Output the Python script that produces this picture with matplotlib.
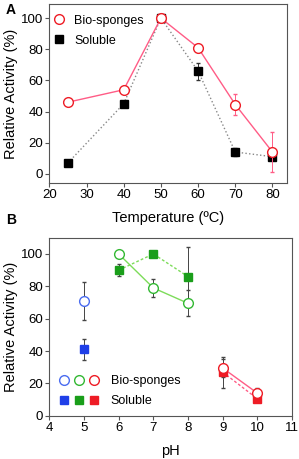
import numpy as np
import matplotlib.pyplot as plt
from matplotlib.legend_handler import HandlerTuple

plt.rcParams['font.family'] = ['Liberation Sans', 'DejaVu Sans']
plt.rcParams['font.size'] = 9.5

## panel A data: temperature
temp = [25, 40, 50, 60, 70, 80]
bio_T = [46, 54, 100, 81, 44.5, 14]
bio_T_err = [2, 1, 1, 1.5, 6.5, 13]
sol_T = [7, 45, 100, 66, 14, 11]
sol_T_err = [1, 1, 1, 5.5, 2.5, 1]

## panel B data: pH
ph_blue = [5]
bio_blue = [71]
bio_blue_err = [11.5]
sol_blue = [41]
sol_blue_err = [6.5]

ph_green = [6, 7, 8]
bio_green = [100, 79, 69.5]
bio_green_err = [0.5, 5.5, 8]
sol_green = [90, 100, 86]
sol_green_err = [3.5, 0.5, 18]

ph_red = [9, 10]
bio_red = [29.5, 14]
bio_red_err = [5.5, 3]
sol_red = [27, 10.5]
sol_red_err = [9.5, 2]

pink = '#ff5c86'
red_c = '#ee1c25'
green_l = '#7ddc5a'
green_f = '#1a9e1a'
blue_c = '#1f3fe8'
spine_c = '#555555'

fig = plt.figure(figsize=(2.99, 4.59), dpi=100)

def style(ax):
    for s in ax.spines.values():
        s.set_color(spine_c)
        s.set_linewidth(0.8)
    ax.tick_params(direction='out', length=3, width=0.8, color=spine_c, pad=1.5)

## panel A
w = fig.add_axes([0.165, 0.601, 0.796, 0.390])
w.plot(temp, sol_T, color='#888888', ls=':', lw=1, zorder=1)
w.errorbar(temp, sol_T, yerr=sol_T_err, fmt='none', ecolor='#333333', elinewidth=0.7, capsize=1.5, zorder=2)
w.plot(temp, sol_T, 's', color='black', ms=6, ls='none', zorder=3, label='Soluble')
w.plot(temp, bio_T, color=pink, lw=1, zorder=4)
w.errorbar(temp, bio_T, yerr=bio_T_err, fmt='none', ecolor=pink, elinewidth=0.7, capsize=1.5, zorder=4)
w.plot(temp, bio_T, 'o', mfc='white', mec=red_c, mew=1, ms=7, ls='none', zorder=5, label='Bio-sponges')
w.set_xlim(20, 84)
w.set_ylim(-6, 109)
w.set_xticks([20, 30, 40, 50, 60, 70, 80])
w.set_yticks([0, 20, 40, 60, 80, 100])
w.set_xlabel('Temperature (ºC)', fontsize=10.5, labelpad=7)
w.set_ylabel('Relative Activity (%)', fontsize=10.5, labelpad=2)
h, l = w.get_legend_handles_labels()
w.legend(h[::-1], l[::-1], loc='upper left', bbox_to_anchor=(0.012, 0.94), frameon=False,
         fontsize=9, handlelength=1.15, handletextpad=0.6, labelspacing=0.62,
         borderpad=0, borderaxespad=0)
style(w)
fig.text(0.02, 0.993, 'A', fontsize=10, fontweight='bold', va='top')
fig.text(0.02, 0.535, 'B', fontsize=10, fontweight='bold', va='top')

## panel B
w = fig.add_axes([0.165, 0.094, 0.812, 0.388])
w.plot(ph_green, sol_green, color=green_l, ls=(0, (2, 1.5)), lw=1, zorder=1)
w.plot(ph_red, sol_red, color=pink, ls=(0, (2, 1.5)), lw=1, zorder=1)
w.plot(ph_green, bio_green, color=green_l, lw=1, zorder=1)
w.plot(ph_red, bio_red, color=pink, lw=1, zorder=1)
for x, y, e in [(ph_blue, sol_blue, sol_blue_err), (ph_green, sol_green, sol_green_err),
                (ph_red, sol_red, sol_red_err), (ph_blue, bio_blue, bio_blue_err),
                (ph_green, bio_green, bio_green_err), (ph_red, bio_red, bio_red_err)]:
    w.errorbar(x, y, yerr=e, fmt='none', ecolor='#444444', elinewidth=0.7, capsize=1.5, zorder=2)
sb, = w.plot(ph_blue, sol_blue, 's', color=blue_c, ms=6, ls='none', zorder=3)
sg, = w.plot(ph_green, sol_green, 's', color=green_f, ms=6, ls='none', zorder=3)
sr, = w.plot(ph_red, sol_red, 's', color=red_c, ms=6, ls='none', zorder=3)
cb, = w.plot(ph_blue, bio_blue, 'o', mfc='white', mec='#4a6cf0', mew=1, ms=7, ls='none', zorder=4)
cg, = w.plot(ph_green, bio_green, 'o', mfc='white', mec='#33b833', mew=1, ms=7, ls='none', zorder=4)
cr, = w.plot(ph_red, bio_red, 'o', mfc='white', mec=red_c, mew=1, ms=7, ls='none', zorder=4)
w.set_xlim(4, 11)
w.set_ylim(0, 110)
w.set_xticks(range(4, 12))
w.set_yticks([0, 20, 40, 60, 80, 100])
w.set_xlabel('pH', fontsize=10.5, labelpad=7)
w.set_ylabel('Relative Activity (%)', fontsize=10.5, labelpad=2)
w.legend([(cb, cg, cr), (sb, sg, sr)], ['Bio-sponges', 'Soluble'],
         handler_map={tuple: HandlerTuple(ndivide=None, pad=0)},
         loc='lower left', bbox_to_anchor=(0.031, 0.05), frameon=False, fontsize=9,
         handlelength=3.6, handletextpad=0.7, labelspacing=0.62,
         borderpad=0, borderaxespad=0)
style(w)

plt.savefig('out.png', dpi=100)
